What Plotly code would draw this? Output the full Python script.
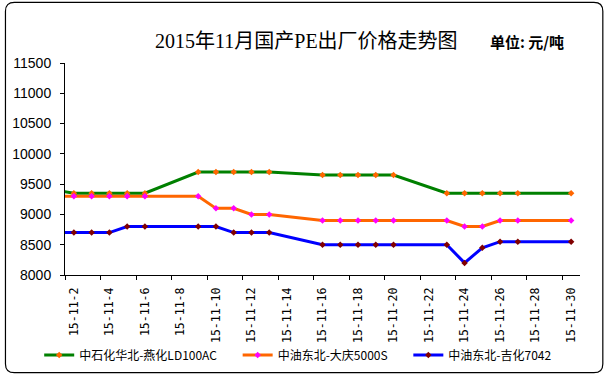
import plotly.graph_objects as go

dates = ["2015-10-30",
         "2015-11-02", "2015-11-03", "2015-11-04", "2015-11-05", "2015-11-06",
         "2015-11-09", "2015-11-10", "2015-11-11", "2015-11-12", "2015-11-13",
         "2015-11-16", "2015-11-17", "2015-11-18", "2015-11-19", "2015-11-20",
         "2015-11-23", "2015-11-24", "2015-11-25", "2015-11-26", "2015-11-27",
         "2015-11-30"]

yanhua = [9500,
          9350, 9350, 9350, 9350, 9350,
          9700, 9700, 9700, 9700, 9700,
          9650, 9650, 9650, 9650, 9650,
          9350, 9350, 9350, 9350, 9350,
          9350]
daqing = [9300,
          9300, 9300, 9300, 9300, 9300,
          9300, 9100, 9100, 9000, 9000,
          8900, 8900, 8900, 8900, 8900,
          8900, 8800, 8800, 8900, 8900,
          8900]
jihua = [8700,
         8700, 8700, 8700, 8800, 8800,
         8800, 8800, 8700, 8700, 8700,
         8500, 8500, 8500, 8500, 8500,
         8500, 8200, 8450, 8550, 8550,
         8550]

names = ["中石化华北-燕化LD100AC", "中油东北-大庆5000S", "中油东北-吉化7042"]
line_colors = ["#008000", "#FF6600", "#0000FF"]
marker_colors = ["#FF6600", "#FF00FF", "#800000"]

tick_days = list(range(2, 31, 2))
tick_vals = ["2015-11-%02d" % d for d in tick_days]
tick_text = ["15-11-%d" % d for d in tick_days]

title_text = "2015年11月国产PE出厂价格走势图"
unit_text = "单位: 元/吨"

W, H = 605, 382
L, R, T, B = 61, 25, 63, 102
pw, ph = W - L - R, H - T - B

def px(x):
    return (x - L) / pw

def py(y):
    return (H - B - y) / ph

legend_ids = ["legend", "legend2", "legend3"]
legend_text_x = [77, 277, 449]

fig = go.Figure()
for name, ys, lc, mc, lid in zip(names, [yanhua, daqing, jihua], line_colors, marker_colors, legend_ids):
    fig.add_trace(go.Scatter(
        x=dates, y=ys, name=name, mode="lines+markers",
        line=dict(color=lc, width=3),
        marker=dict(color=mc, size=5, symbol="diamond"),
        cliponaxis=True, legend=lid,
    ))

# rounded outer border
x0, x1, y0, y1, r = 1, 603, 1, 380, 9
path = (f"M {px(x0 + r)},{py(y0)} L {px(x1 - r)},{py(y0)} Q {px(x1)},{py(y0)} {px(x1)},{py(y0 + r)} "
        f"L {px(x1)},{py(y1 - r)} Q {px(x1)},{py(y1)} {px(x1 - r)},{py(y1)} "
        f"L {px(x0 + r)},{py(y1)} Q {px(x0)},{py(y1)} {px(x0)},{py(y1 - r)} "
        f"L {px(x0)},{py(y0 + r)} Q {px(x0)},{py(y0)} {px(x0 + r)},{py(y0)} Z")

legend_style = dict(orientation="h", yanchor="middle", xanchor="left",
                    font=dict(family="Noto Sans CJK SC", size=12, color="black"),
                    itemwidth=30, bgcolor="rgba(0,0,0,0)")
legends = {}
for lid, tx in zip(legend_ids, legend_text_x):
    legends[lid] = dict(legend_style, x=px(tx - 42), y=py(362))

fig.update_layout(
    width=W, height=H,
    margin=dict(l=L, r=R, t=T, b=B),
    paper_bgcolor="white", plot_bgcolor="white",
    showlegend=True,
    shapes=[dict(type="path", xref="paper", yref="paper", path=path,
                 line=dict(color="black", width=1.2), layer="below")],
    annotations=[
        dict(text=title_text, xref="paper", yref="paper", x=px(304), y=py(40),
             xanchor="center", yanchor="middle", showarrow=False,
             font=dict(family="Liberation Serif, Noto Sans CJK SC", size=20, color="black")),
        dict(text="<b>" + unit_text + "</b>", xref="paper", yref="paper", x=px(527), y=py(41),
             xanchor="center", yanchor="middle", showarrow=False,
             font=dict(family="Noto Sans CJK SC", size=15, color="black")),
    ],
    font=dict(family="Liberation Sans", color="black"),
    **legends,
)

fig.update_xaxes(
    type="date", range=["2015-11-01 12:00", "2015-11-30 12:00"],
    tickmode="array", tickvals=tick_vals, ticktext=tick_text, tickangle=-90,
    ticks="", showgrid=False, zeroline=False,
    showline=True, linecolor="black", linewidth=1,
    tickfont=dict(family="DejaVu Sans Mono", size=11.5, color="black"),
    minor=dict(ticks="outside", ticklen=4, tickcolor="black",
               tick0="2015-11-03 12:00", dtick=2 * 86400000, showgrid=False),
    ticklabelstandoff=7,
)
fig.update_yaxes(
    range=[8000, 11500], tickmode="linear", tick0=8000, dtick=500, tickformat="d",
    ticks="outside", ticklen=4, tickcolor="black",
    showgrid=False, zeroline=False,
    showline=True, linecolor="black", linewidth=1,
    tickfont=dict(family="Liberation Sans", size=14, color="black"),
    ticklabelstandoff=6,
)

fig.write_html("out.html", config={"displayModeBar": False},
               post_script="document.body.style.margin='0';document.body.style.padding='0';")
